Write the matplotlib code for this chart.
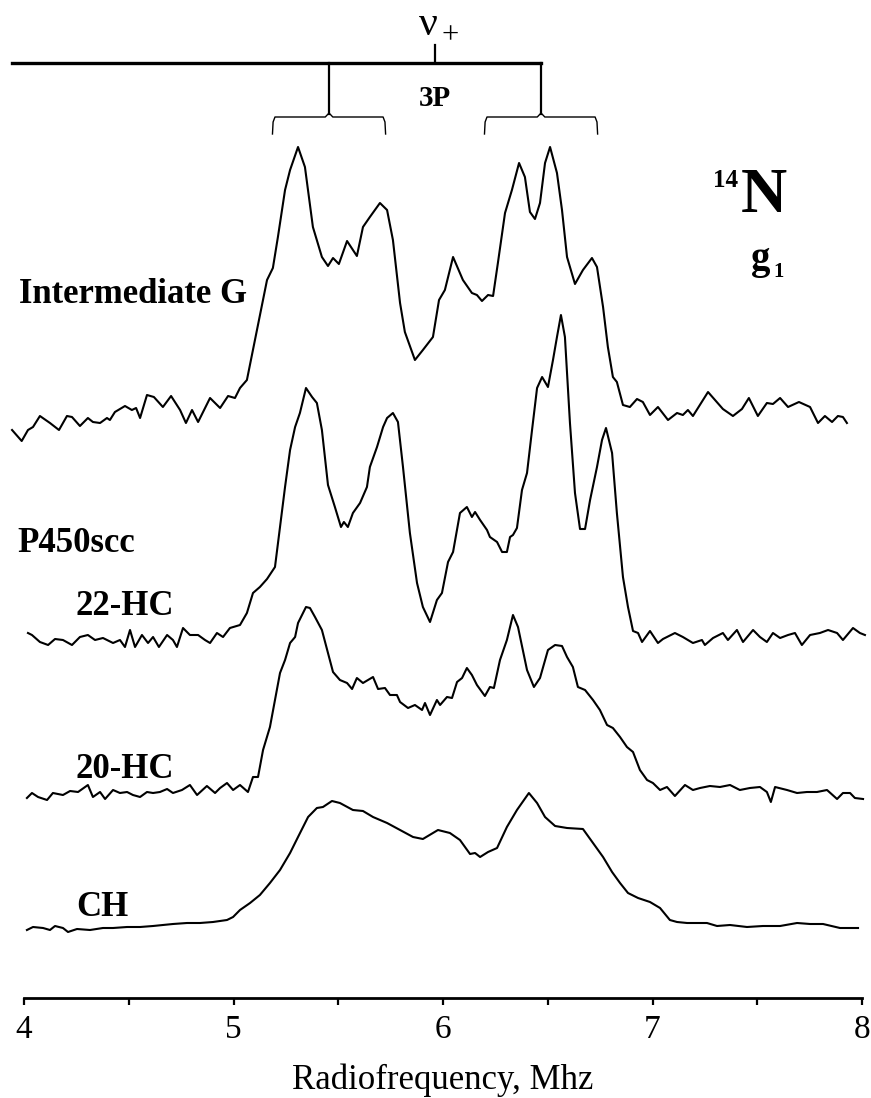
import matplotlib
matplotlib.use("Agg")
import matplotlib.pyplot as plt

plt.rcParams['font.family'] = ['Liberation Serif', 'DejaVu Serif']

# ENDOR spectra, 14N region at g1. Frequencies in MHz, intensities in
# arbitrary units relative to each trace's own baseline.
freq_g = [3.943, 3.989, 4.019, 4.043, 4.076, 4.124, 4.167, 4.205, 4.229, 4.267,
          4.305, 4.329, 4.363, 4.396, 4.410, 4.434, 4.482, 4.515, 4.535, 4.554,
          4.587, 4.620, 4.663, 4.702, 4.745, 4.773, 4.802, 4.831, 4.888, 4.936,
          4.974, 5.007, 5.031, 5.064, 5.112, 5.160, 5.188, 5.212, 5.246, 5.270,
          5.308, 5.341, 5.379, 5.422, 5.451, 5.475, 5.503, 5.542, 5.589, 5.618,
          5.651, 5.699, 5.733, 5.761, 5.795, 5.818, 5.866, 5.904, 5.952, 5.981,
          6.009, 6.048, 6.095, 6.138, 6.162, 6.186, 6.215, 6.239, 6.262, 6.296,
          6.329, 6.363, 6.391, 6.415, 6.439, 6.463, 6.487, 6.511, 6.544, 6.568,
          6.592, 6.630, 6.668, 6.711, 6.735, 6.764, 6.787, 6.811, 6.830, 6.859,
          6.892, 6.926, 6.954, 6.988, 7.026, 7.074, 7.117, 7.145, 7.169, 7.193,
          7.265, 7.336, 7.384, 7.427, 7.460, 7.503, 7.546, 7.575, 7.609, 7.647,
          7.699, 7.752, 7.790, 7.823, 7.857, 7.885, 7.909, 7.928]
int_g = [-10, -21, -10, -7, 4, -3, -10, 4, 3, -6,
         2, -2, -3, 2, 0, 8, 14, 10, 12, 2,
         25, 23, 13, 24, 10, -3, 10, -2, 22, 12,
         24, 22, 32, 40, 90, 140, 152, 183, 230, 250,
         273, 253, 193, 163, 154, 162, 156, 179, 164, 193,
         203, 217, 210, 180, 117, 88, 60, 70, 83, 120,
         130, 163, 140, 127, 125, 119, 125, 124, 157, 207,
         230, 257, 243, 208, 201, 217, 257, 273, 247, 210,
         163, 136, 150, 162, 153, 113, 73, 43, 38, 15,
         13, 21, 18, 5, 13, 0, 7, 5, 10, 4,
         28, 11, 4, 11, 22, 4, 17, 16, 22, 13,
         18, 13, -3, 4, -2, 4, 3, -3]

freq_22hc = [4.019, 4.038, 4.076, 4.115, 4.148, 4.186, 4.229, 4.267, 4.305, 4.339,
             4.377, 4.425, 4.458, 4.482, 4.506, 4.530, 4.563, 4.592, 4.616, 4.644,
             4.683, 4.711, 4.730, 4.759, 4.792, 4.831, 4.864, 4.888, 4.921, 4.950,
             4.983, 5.031, 5.064, 5.093, 5.126, 5.160, 5.198, 5.222, 5.246, 5.270,
             5.294, 5.317, 5.346, 5.375, 5.398, 5.422, 5.451, 5.484, 5.513, 5.527,
             5.546, 5.570, 5.604, 5.637, 5.651, 5.685, 5.714, 5.733, 5.761, 5.785,
             5.809, 5.842, 5.876, 5.904, 5.938, 5.971, 5.995, 6.024, 6.048, 6.081,
             6.114, 6.138, 6.153, 6.177, 6.210, 6.224, 6.258, 6.282, 6.305, 6.320,
             6.334, 6.353, 6.377, 6.401, 6.425, 6.449, 6.473, 6.501, 6.525, 6.544,
             6.563, 6.582, 6.606, 6.630, 6.654, 6.678, 6.702, 6.735, 6.759, 6.778,
             6.807, 6.830, 6.859, 6.883, 6.907, 6.931, 6.950, 6.988, 7.026, 7.050,
             7.107, 7.145, 7.193, 7.236, 7.250, 7.289, 7.336, 7.360, 7.403, 7.432,
             7.480, 7.513, 7.546, 7.575, 7.609, 7.647, 7.680, 7.713, 7.752, 7.799,
             7.838, 7.881, 7.909, 7.957, 7.990, 8.014]
int_22hc = [4, 2, -5, -8, -2, -3, -8, 0, 2, -3,
            -1, -6, -3, -10, 7, -10, 2, -6, 0, -10,
            2, -3, -10, 9, 2, 2, -3, -6, 4, 0,
            9, 12, 24, 44, 50, 58, 70, 110, 150, 187,
            210, 224, 249, 240, 234, 207, 152, 130, 110, 115,
            110, 124, 134, 150, 170, 190, 210, 219, 224, 215,
            170, 104, 54, 30, 15, 37, 44, 75, 85, 124,
            130, 120, 125, 117, 107, 100, 95, 85, 85, 100,
            102, 109, 147, 164, 207, 249, 260, 250, 277, 300,
            322, 300, 214, 144, 108, 108, 137, 170, 197, 209,
            184, 124, 60, 30, 6, 4, -5, 6, -6, -2,
            4, 0, -6, -3, -8, -1, 4, -3, 7, -5,
            7, 0, -5, 4, -1, 2, 4, -8, 2, 4,
            7, 4, -3, 9, 4, 2]

freq_20hc = [4.014, 4.038, 4.067, 4.110, 4.138, 4.186, 4.220, 4.258, 4.305, 4.329,
             4.363, 4.387, 4.425, 4.458, 4.492, 4.520, 4.554, 4.587, 4.616, 4.649,
             4.683, 4.711, 4.754, 4.792, 4.826, 4.873, 4.912, 4.936, 4.969, 4.998,
             5.031, 5.069, 5.093, 5.117, 5.141, 5.174, 5.198, 5.222, 5.246, 5.270,
             5.294, 5.308, 5.327, 5.346, 5.365, 5.389, 5.422, 5.451, 5.475, 5.508,
             5.542, 5.566, 5.589, 5.618, 5.642, 5.666, 5.690, 5.723, 5.747, 5.780,
             5.795, 5.833, 5.866, 5.900, 5.914, 5.938, 5.971, 5.986, 6.019, 6.043,
             6.067, 6.091, 6.114, 6.138, 6.162, 6.200, 6.224, 6.243, 6.272, 6.305,
             6.334, 6.358, 6.401, 6.434, 6.463, 6.501, 6.535, 6.568, 6.592, 6.620,
             6.644, 6.678, 6.716, 6.749, 6.783, 6.811, 6.845, 6.878, 6.907, 6.940,
             6.974, 7.002, 7.036, 7.069, 7.107, 7.155, 7.193, 7.227, 7.274, 7.322,
             7.370, 7.417, 7.465, 7.513, 7.546, 7.565, 7.585, 7.642, 7.690, 7.737,
             7.785, 7.833, 7.881, 7.909, 7.943, 7.966, 8.005]
int_20hc = [-6, -1, -5, -8, -1, -3, 1, 0, 7, -5,
            0, -7, 2, -1, 0, -3, -5, 0, -1, 0,
            3, -1, 2, 7, -3, 6, -1, 4, 9, 2,
            7, 0, 15, 15, 42, 65, 92, 119, 132, 149,
            155, 169, 177, 185, 184, 175, 162, 139, 120, 112,
            109, 103, 114, 109, 112, 115, 103, 104, 97, 97,
            90, 84, 87, 82, 89, 77, 92, 87, 95, 94,
            110, 114, 124, 117, 107, 96, 105, 104, 132, 152,
            177, 165, 122, 105, 114, 142, 147, 146, 135, 125,
            105, 102, 92, 82, 67, 64, 55, 45, 40, 22,
            12, 9, 2, 5, -4, 7, 2, 4, 6, 5,
            7, 2, 4, 5, 0, -10, 5, 2, -1, 0,
            0, 2, -7, -1, -1, -6, -7]

freq_ch = [4.014, 4.043, 4.091, 4.124, 4.148, 4.186, 4.210, 4.253, 4.315, 4.377,
           4.425, 4.492, 4.554, 4.616, 4.663, 4.711, 4.778, 4.840, 4.902, 4.969,
           4.998, 5.031, 5.079, 5.126, 5.174, 5.222, 5.270, 5.308, 5.356, 5.398,
           5.427, 5.470, 5.508, 5.570, 5.618, 5.666, 5.733, 5.795, 5.857, 5.904,
           5.952, 5.976, 6.033, 6.081, 6.129, 6.153, 6.177, 6.215, 6.258, 6.305,
           6.353, 6.410, 6.449, 6.487, 6.535, 6.592, 6.668, 6.716, 6.764, 6.807,
           6.845, 6.883, 6.931, 6.988, 7.036, 7.083, 7.117, 7.165, 7.212, 7.260,
           7.308, 7.370, 7.451, 7.527, 7.609, 7.690, 7.752, 7.814, 7.895, 7.981]
int_ch = [-3, 0, -1, -3, 1, -1, -5, -2, -3, -1,
          -1, 0, 0, 1, 2, 3, 4, 4, 5, 7,
          10, 17, 24, 32, 44, 57, 74, 90, 110, 119,
          120, 126, 124, 117, 116, 110, 104, 97, 90, 88,
          94, 97, 94, 87, 73, 74, 70, 75, 79, 100,
          117, 134, 124, 110, 101, 99, 98, 84, 70, 55,
          44, 34, 29, 25, 19, 7, 5, 4, 4, 4,
          1, 2, 0, 1, 1, 4, 3, 3, -1, -1]

# vertical stacking of the four traces
offset_g, offset_22, offset_20, offset_ch = 578, 361, 206, 71

# 3P splitting pattern centred on nu+
nu_plus = 5.962
branch_l, branch_r = 5.456, 6.468
brack_half = 0.27

fig = plt.figure(figsize=(8.71, 10.98), dpi=100)
ax = fig.add_axes([24 / 871, 100 / 1098, 838 / 871, 998 / 1098])
ax.set_xlim(4, 8)
ax.set_ylim(0, 998)

lw = 1.5
ax.plot(freq_g, [v + offset_g for v in int_g], color='black', lw=lw, clip_on=False)
ax.plot(freq_22hc, [v + offset_22 for v in int_22hc], color='black', lw=lw, clip_on=False)
ax.plot(freq_20hc, [v + offset_20 for v in int_20hc], color='black', lw=lw, clip_on=False)
ax.plot(freq_ch, [v + offset_ch for v in int_ch], color='black', lw=lw, clip_on=False)

# splitting diagram
ax.plot([3.943, branch_r], [935, 935], color='black', lw=2.4, clip_on=False)
ax.plot([nu_plus, nu_plus], [935, 953], color='black', lw=1.6, clip_on=False)
for c in (branch_l, branch_r):
    ax.plot([c, c], [935, 884], color='black', lw=1.6, clip_on=False)
    l, r = c - brack_half, c + brack_half
    ax.plot([l, l + 0.003, l + 0.012, c - 0.018, c, c + 0.018, r - 0.012, r - 0.003, r],
            [864, 876, 881, 881, 885, 881, 881, 876, 864],
            color='black', lw=1.0, clip_on=False)

ax.text(nu_plus - 0.075, 963, 'ν', fontsize=30, ha='left', va='baseline')
ax.text(nu_plus + 0.03, 955, '+', fontsize=22, ha='left', va='baseline')
ax.text(nu_plus, 892, '3P', fontsize=21, fontweight='bold', ha='center', va='baseline')

ax.text(7.29, 811, '14', fontsize=18, fontweight='bold', ha='left', va='baseline')
ax.text(7.42, 786, 'N', fontsize=46, fontweight='bold', ha='left', va='baseline')
ax.text(7.47, 729, 'g', fontsize=28, fontweight='bold', ha='left', va='baseline')
ax.text(7.575, 721, '1', fontsize=15, fontweight='bold', ha='left', va='baseline')

label_kw = dict(fontsize=25, fontweight='bold', ha='left', va='baseline')
ax.text(3.975, 695, 'Intermediate G', **label_kw)
ax.text(3.968, 446, 'P450scc', **label_kw)
ax.text(4.248, 383, '22-HC', **label_kw)
ax.text(4.248, 220, '20-HC', **label_kw)
ax.text(4.248, 82, 'CH', **label_kw)

for s in ('left', 'right', 'top'):
    ax.spines[s].set_visible(False)
ax.spines['bottom'].set_linewidth(2.0)
ax.set_yticks([])
ax.set_xticks([4, 5, 6, 7, 8])
ax.set_xticks([4.5, 5.5, 6.5, 7.5], minor=True)
ax.tick_params(axis='x', which='both', direction='out', length=5, width=1.6,
               labelsize=24, pad=7)
ax.set_xlabel('Radiofrequency, Mhz', fontsize=25, labelpad=13)

fig.savefig('out.png', dpi=100)
